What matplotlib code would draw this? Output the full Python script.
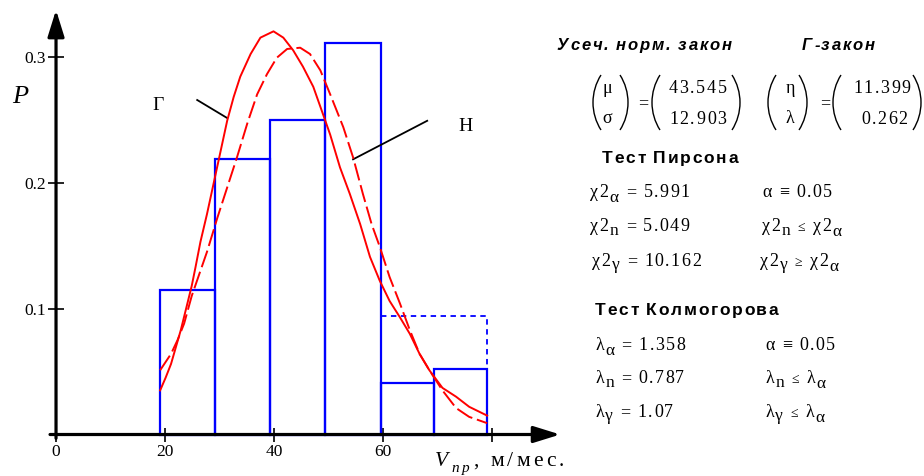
import numpy as np
import matplotlib
matplotlib.use('Agg')
import matplotlib.pyplot as plt
from matplotlib.patches import Arc

plt.rcParams['font.family'] = ['Liberation Serif', 'DejaVu Serif']

# histogram (relative frequencies per interval)
bin_edges = [19.1, 29.1, 39.3, 49.4, 59.6, 69.4, 79.1]
bin_prob = [0.115, 0.219, 0.250, 0.311, 0.041, 0.052]
tail_prob = 0.094  # last two intervals merged

# gamma law curve (solid)
gamma_x = [19.1, 20.1, 21.1, 22.9, 24.9, 25.6, 26.5, 27.7, 28.8, 29.9, 31.4, 32.6, 33.8,
           35.7, 37.5, 39.9, 41.7, 43.5, 45.3, 47.2, 49.0, 50.3, 52.1, 53.9, 55.8,
           57.6, 59.4, 61.2, 63.1, 64.9, 66.7, 68.5, 70.9, 73.4, 75.8, 79.1]
gamma_y = [0.035, 0.045, 0.056, 0.083, 0.118, 0.133, 0.153, 0.175, 0.197, 0.219, 0.249, 0.268, 0.284,
           0.302, 0.315, 0.320, 0.315, 0.305, 0.292, 0.276, 0.254, 0.238, 0.212, 0.191, 0.167,
           0.141, 0.122, 0.106, 0.093, 0.080, 0.064, 0.051, 0.037, 0.030, 0.022, 0.015]

# truncated normal curve (dashed)
norm_x = [19.1, 21.1, 22.3, 23.5, 24.9, 26.5, 27.7, 28.9, 29.6, 31.4, 33.2, 35.1, 36.9,
          38.7, 40.5, 42.4, 44.8, 46.6, 48.5, 50.3, 51.5, 52.7, 54.5, 56.3, 57.9,
          59.4, 61.2, 63.1, 64.9, 66.7, 68.5, 70.9, 73.4, 75.8, 79.1]
norm_y = [0.051, 0.064, 0.075, 0.088, 0.110, 0.130, 0.145, 0.162, 0.172, 0.196, 0.220, 0.247, 0.270,
          0.286, 0.299, 0.306, 0.307, 0.302, 0.289, 0.270, 0.257, 0.244, 0.220, 0.191, 0.167,
          0.149, 0.125, 0.104, 0.083, 0.064, 0.051, 0.035, 0.021, 0.014, 0.009]

x_ticks = [0, 20, 40, 60, 80]
x_ticklabels = ['0', '20', '40', '60', '']
y_ticks = [0.1, 0.2, 0.3]
y_ticklabels = ['0.1', '0.2', '0.3']

W, H = 924, 476
fig = plt.figure(figsize=(W / 100, H / 100), dpi=100)
ax = fig.add_axes([40 / W, (H - 445) / H, 530 / W, 440 / H])
ax.set_xlim(-2.94, 94.3)
ax.set_ylim(-0.00833, 0.3409)
ax.patch.set_alpha(0)

blue = '#0000ff'
red = '#ff0000'

widths = np.diff(bin_edges)
ax.bar(bin_edges[:-1], bin_prob, width=widths, align='edge', fill=False,
       edgecolor=blue, linewidth=1.6, zorder=2)
ax.plot([bin_edges[4], bin_edges[6], bin_edges[6]], [tail_prob, tail_prob, bin_prob[5]],
        color=blue, ls=(0, (3, 2.5)), lw=1.3, zorder=2)

ax.plot(gamma_x, gamma_y, color=red, lw=1.4, zorder=3)
ax.plot(norm_x, norm_y, color=red, lw=1.4, ls=(0, (9, 2.5)), zorder=3)

# axes with arrows
for s in ['top', 'right']:
    ax.spines[s].set_visible(False)
for s in ['left', 'bottom']:
    ax.spines[s].set_position(('data', 0))
    ax.spines[s].set_color('none')
arrow = dict(arrowstyle='-|>,head_length=0.9,head_width=0.28', color='k', lw=2.3,
             mutation_scale=18, shrinkA=0, shrinkB=0)
ax.annotate('', xy=(92.5, 0), xytext=(-1.1, 0), arrowprops=arrow, zorder=5)
ax.annotate('', xy=(0, 0.337), xytext=(0, -0.003), arrowprops=arrow, zorder=5)

ax.set_xticks(x_ticks)
ax.set_xticklabels(x_ticklabels)
ax.set_yticks(y_ticks)
ax.set_yticklabels(y_ticklabels)
ax.tick_params(axis='y', direction='inout', length=11, width=1.2, labelsize=12.5, pad=2)
ax.tick_params(axis='x', direction='inout', length=10, width=1.2, labelsize=12.5, pad=2)

# labels for curves
ax.text(-6.6, 0.268, 'P', fontsize=19, style='italic', ha='center', va='center')
ax.text(18.7, 0.2615, 'Г', fontsize=14, ha='center', va='center')
ax.plot([25.9, 31.4], [0.2655, 0.2512], color='k', lw=1.3)
ax.text(75.2, 0.2444, 'Н', fontsize=14, ha='center', va='center')
ax.plot([68.1, 54.5], [0.249, 0.2184], color='k', lw=1.3)

# overlay in pixel coordinates for the text panel
ov = fig.add_axes([0, 0, 1, 1])
ov.set_xlim(0, W)
ov.set_ylim(H, 0)
ov.axis('off')
ov.patch.set_alpha(0)
renderer = fig.canvas.get_renderer()


def write(x, y, parts, track=1.5, **kw):
    # letter-spaced text, parts = (text, size, dy, style)
    for s, size, dy, style in parts:
        for ch in s:
            if ch == ' ':
                x += 0.25 * size * 100 / 72 + track
                continue
            t = ov.text(x, y + dy, ch, fontsize=size, style=style,
                        ha='left', va='baseline', **kw)
            x += t.get_window_extent(renderer).width + track
    return x


N, I = 'normal', 'italic'
write(435, 466, [('V', 15.5, 0, I), ('np', 11, 6, I), (',', 15.5, 0, N), (' м/мес.', 15.5, 0, N)],
      track=3.2)

sans = dict(family='Liberation Sans', weight='bold')
write(557, 50, [('Усеч. норм. закон', 12, 0, I)], track=1.8, **sans)
write(802, 50, [('Г-закон', 12, 0, I)], track=1.8, **sans)
write(602, 163, [('Тест Пирсона', 12.5, 0, N)], track=1.7, **sans)
write(595, 315, [('Тест Колмогорова', 12.5, 0, N)], track=1.7, **sans)


def paren(x_tip, side, top=75, bot=130, bulge=8):
    h = bot - top
    r = (h * h / 4 + bulge * bulge) / (2 * bulge)
    phi = np.degrees(np.arcsin(h / 2 / r))
    cy = (top + bot) / 2
    if side == 'l':
        a = Arc((x_tip + r, cy), 2 * r, 2 * r, theta1=180 - phi, theta2=180 + phi, lw=1.0, color='k')
    else:
        a = Arc((x_tip - r, cy), 2 * r, 2 * r, theta1=-phi, theta2=phi, lw=1.0, color='k')
    ov.add_patch(a)


for xt, sd in [(593, 'l'), (628, 'r'), (652, 'l'), (740, 'r'),
               (768, 'l'), (807, 'r'), (833, 'l'), (921, 'r')]:
    paren(xt, sd)

mt = dict(fontsize=13, va='baseline', ha='center')
ov.text(607, 93, 'μ', **mt)
ov.text(607, 123, 'σ', **mt)
ov.text(643, 108, '=', **mt)
ov.text(790, 93, 'η', **mt)
ov.text(790, 123, 'λ', **mt)
ov.text(825, 108, '=', **mt)
write(669, 93, [('43.545', 13, 0, N)], track=1.6)
write(669, 124, [('12.903', 13, 0, N)], track=1.6)
write(853, 93, [('11.399', 13, 0, N)], track=1.6)
write(861, 124, [('0.262', 13, 0, N)], track=1.6)

B, S = 13, 12.5
rows = [
    (590, 197, [('χ2', B, 0, N), ('α', S, 5, N), (' = 5.991', B, 0, N)]),
    (762, 197, [('α ≡ 0.05', B, 0, N)]),
    (590, 231, [('χ2', B, 0, N), ('n', S, 4, N), (' = 5.049', B, 0, N)]),
    (762, 231, [('χ2', B, 0, N), ('n', S, 4, N), (' ', B, 0, N), ('≤', 10, 0, N), (' χ2', B, 0, N), ('α', S, 5, N)]),
    (592, 266, [('χ2', B, 0, N), ('γ', S, 3, N), (' = 10.162', B, 0, N)]),
    (760, 266, [('χ2', B, 0, N), ('γ', S, 3, N), (' ', B, 0, N), ('≥', 10, 0, N), (' χ2', B, 0, N), ('α', S, 5, N)]),
    (595, 350, [('λ', B, 0, N), ('α', S, 5, N), (' = 1.358', B, 0, N)]),
    (765, 350, [('α ≡ 0.05', B, 0, N)]),
    (595, 383, [('λ', B, 0, N), ('n', S, 4, N), (' = 0.787', B, 0, N)]),
    (765, 383, [('λ', B, 0, N), ('n', S, 4, N), (' ', B, 0, N), ('≤', 10, 0, N), (' λ', B, 0, N), ('α', S, 5, N)]),
    (595, 417, [('λ', B, 0, N), ('γ', S, 3, N), (' = 1.07', B, 0, N)]),
    (765, 417, [('λ', B, 0, N), ('γ', S, 3, N), (' ', B, 0, N), ('≤', 10, 0, N), (' λ', B, 0, N), ('α', S, 5, N)]),
]
for x, y, parts in rows:
    write(x, y, parts, track=1.4)

fig.savefig('out.png', dpi=100)
